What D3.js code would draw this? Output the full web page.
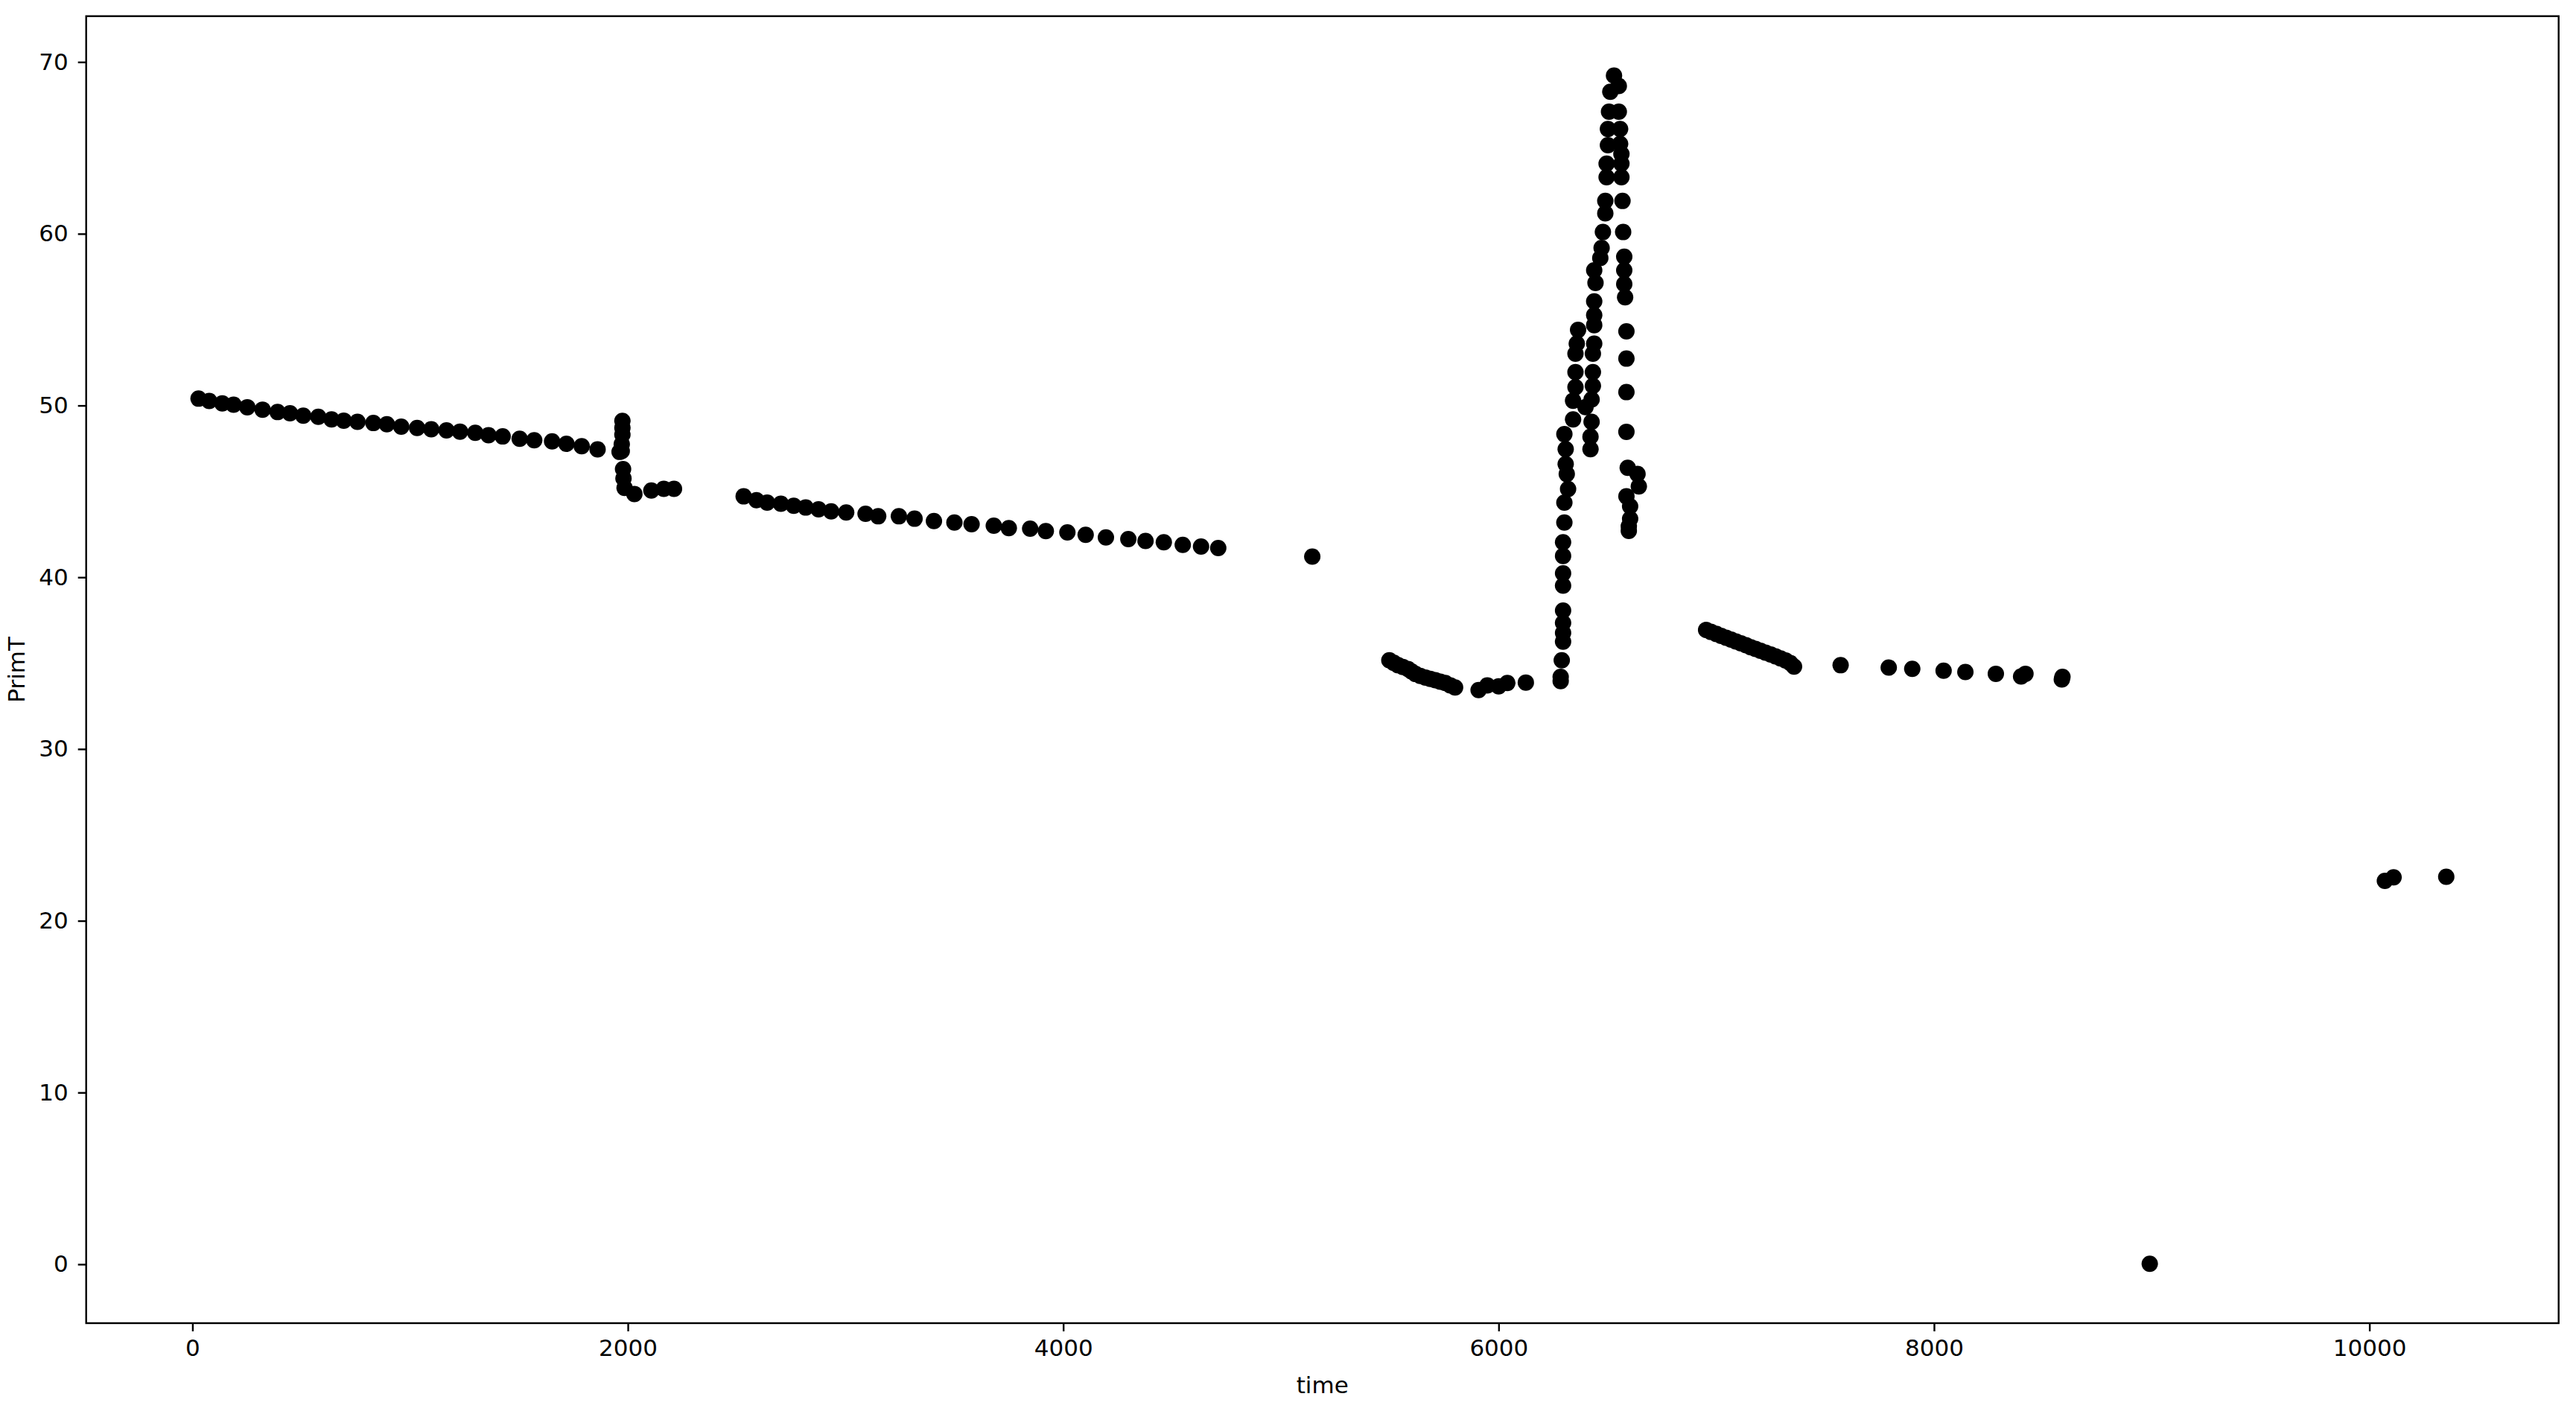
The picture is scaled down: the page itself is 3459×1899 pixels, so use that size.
<!DOCTYPE html>
<html>
<head>
<meta charset="utf-8">
<script src="https://cdn.jsdelivr.net/npm/d3@7"></script>
<style>
  body { margin: 0; background: #fff; }
  svg text { font-family: "DejaVu Sans", sans-serif; fill: #000; }
</style>
</head>
<body>
<div id="plotdiv"></div>
<script>
// readings, one pair of arrays per run
const time1 = [28, 77, 137, 189, 252, 322, 391, 448, 509, 578, 639, 695, 758, 831, 893, 959, 1032, 1097, 1167, 1229, 1299, 1360, 1425, 1503, 1570, 1652, 1718, 1788, 1861,
  1962, 1972, 1972, 1975, 1975, 1975, 1978, 1980, 1985, 2030, 2108, 2165, 2212];
const primT1 = [50.40, 50.26, 50.12, 50.05, 49.90, 49.76, 49.62, 49.55, 49.41, 49.34, 49.19, 49.12, 49.05, 48.98, 48.91, 48.77, 48.69, 48.62, 48.55, 48.48, 48.41, 48.27, 48.20, 48.06, 47.98, 47.91, 47.77, 47.63, 47.45,
  47.30, 47.35, 47.75, 48.30, 48.70, 49.10, 46.30, 45.75, 45.20, 44.85, 45.05, 45.15, 45.15];

const time2 = [2532, 2591, 2640, 2703, 2762, 2817, 2876, 2934, 3003, 3092, 3150, 3245, 3317, 3406, 3500, 3579, 3681, 3750, 3848, 3920, 4019, 4103, 4196, 4299, 4378, 4462, 4549, 4633, 4712, 5144];
const primT2 = [44.71, 44.49, 44.35, 44.28, 44.16, 44.06, 43.96, 43.84, 43.77, 43.70, 43.55, 43.55, 43.41, 43.27, 43.19, 43.09, 43.00, 42.86, 42.83, 42.69, 42.61, 42.47, 42.32, 42.22, 42.11, 42.04, 41.89, 41.79, 41.70, 41.20];

const time3 = [5498, 5518, 5538, 5560, 5584, 5600, 5618, 5640, 5664, 5686, 5709, 5732, 5755, 5778, 5800, 5908, 5948, 6000, 6040, 6125];
const primT3 = [35.17, 35.02, 34.88, 34.78, 34.66, 34.52, 34.37, 34.26, 34.16, 34.08, 34.01, 33.92, 33.84, 33.70, 33.58, 33.43, 33.70, 33.65, 33.84, 33.87];

// the rise
const time4 = [6285, 6285, 6290, 6296, 6296, 6296, 6296, 6296, 6296, 6296, 6296, 6302, 6302, 6319, 6313, 6308, 6308, 6302,
  6422, 6422, 6342, 6427, 6399, 6342, 6427, 6353, 6433, 6353, 6433, 6353, 6433, 6359, 6365,
  6439, 6439, 6439, 6439, 6445, 6439, 6467, 6473, 6479, 6490, 6490, 6496, 6496, 6502, 6502, 6507, 6513, 6530];
const primT4 = [33.95, 34.20, 35.17, 36.25, 36.76, 37.34, 38.06, 39.51, 40.23, 41.24, 42.04, 43.19, 44.35, 45.14, 46.01, 46.59, 47.46, 48.33,
  47.46, 48.18, 49.19, 49.05, 49.91, 50.28, 50.35, 51.07, 51.14, 51.94, 51.94, 53.02, 53.02, 53.60, 54.40,
  53.60, 54.68, 55.26, 56.06, 57.14, 57.87, 58.59, 59.17, 60.10, 61.19, 61.91, 63.29, 64.08, 65.16, 66.10, 67.11, 68.27, 69.21];

// the fall
const time5 = [6552, 6552, 6558, 6558, 6564, 6564, 6564, 6569, 6572, 6577, 6577, 6577, 6581, 6587, 6587, 6587, 6587, 6593, 6638, 6644, 6587, 6604, 6604, 6598, 6598];
const primT5 = [68.60, 67.11, 66.10, 65.23, 64.65, 64.08, 63.29, 61.91, 60.10, 58.66, 57.87, 57.07, 56.30, 54.32, 52.73, 50.78, 48.47, 46.37, 46.01, 45.29, 44.71, 44.13, 43.40, 42.97, 42.70];

const time6 = [6953, 6975, 7000, 7022, 7045, 7068, 7090, 7113, 7136, 7158, 7180, 7203, 7226, 7250, 7272, 7295, 7318, 7340, 7357,
  7571, 7792, 7900, 8044, 8144, 8284, 8400, 8420, 8587, 8590];
const primT6 = [36.93, 36.82, 36.70, 36.59, 36.48, 36.37, 36.26, 36.15, 36.04, 35.93, 35.83, 35.72, 35.61, 35.50, 35.39, 35.28, 35.16, 35.00, 34.80,
  34.88, 34.74, 34.67, 34.56, 34.48, 34.38, 34.22, 34.38, 34.05, 34.20];

const time7 = [8991, 10071, 10111, 10353];
const primT7 = [0.03, 22.32, 22.53, 22.56];

const xTicks = [0, 2000, 4000, 6000, 8000, 10000];
const yTicks = [0, 10, 20, 30, 40, 50, 60, 70];

const times = [time1, time2, time3, time4, time5, time6, time7].flat();
const temps = [primT1, primT2, primT3, primT4, primT5, primT6, primT7].flat();
const points = times.map((t, i) => [t, temps[i]]);

const W = 3459, H = 1899;
const margin = {top: 21.7, right: 23.3, bottom: 122, left: 115.7};
const width = W - margin.left - margin.right,
  height = H - margin.top - margin.bottom;

// matplotlib style 5% padding round the data
const xExt = d3.extent(times), yExt = d3.extent(temps);
const xPad = (xExt[1] - xExt[0]) * 0.05, yPad = (yExt[1] - yExt[0]) * 0.05;

const x = d3.scaleLinear().domain([xExt[0] - xPad, xExt[1] + xPad]).range([0, width]);
const y = d3.scaleLinear().domain([yExt[0] - yPad, yExt[1] + yPad]).range([height, 0]);

const svg = d3.select("#plotdiv")
  .append("svg")
  .attr("width", W)
  .attr("height", H)
  .style("display", "block");

svg.append("rect").attr("width", W).attr("height", H).attr("fill", "#fff");

const g = svg.append("g")
  .attr("transform", "translate(" + margin.left + "," + margin.top + ")");

g.selectAll("circle")
  .data(points)
  .enter()
  .append("circle")
  .attr("cx", d => x(d[0]))
  .attr("cy", d => y(d[1]))
  .attr("r", 11)
  .attr("fill", "#000");

// axes
const xAxis = g.append("g")
  .attr("transform", "translate(0," + height + ")")
  .call(d3.axisBottom(x).tickValues(xTicks).tickFormat(d3.format("d")).tickSize(11).tickPadding(11).tickSizeOuter(0));

const yAxis = g.append("g")
  .call(d3.axisLeft(y).tickValues(yTicks).tickFormat(d3.format("d")).tickSize(11).tickPadding(13).tickSizeOuter(0));

[xAxis, yAxis].forEach(a => {
  a.select(".domain").remove();
  a.selectAll(".tick line").attr("stroke", "#000").attr("stroke-width", 2.4);
  a.selectAll(".tick text").attr("font-size", 31).attr("font-family", "DejaVu Sans");
});

// frame
g.append("rect")
  .attr("width", width)
  .attr("height", height)
  .attr("fill", "none")
  .attr("stroke", "#000")
  .attr("stroke-width", 2.4);

svg.append("text")
  .attr("x", margin.left + width / 2)
  .attr("y", 1860)
  .attr("dy", "0.35em")
  .attr("text-anchor", "middle")
  .attr("font-size", 31)
  .text("time");

svg.append("text")
  .attr("transform", "translate(22," + (margin.top + height / 2) + ") rotate(-90)")
  .attr("dy", "0.35em")
  .attr("text-anchor", "middle")
  .attr("font-size", 31)
  .text("PrimT");
</script>
</body>
</html>
